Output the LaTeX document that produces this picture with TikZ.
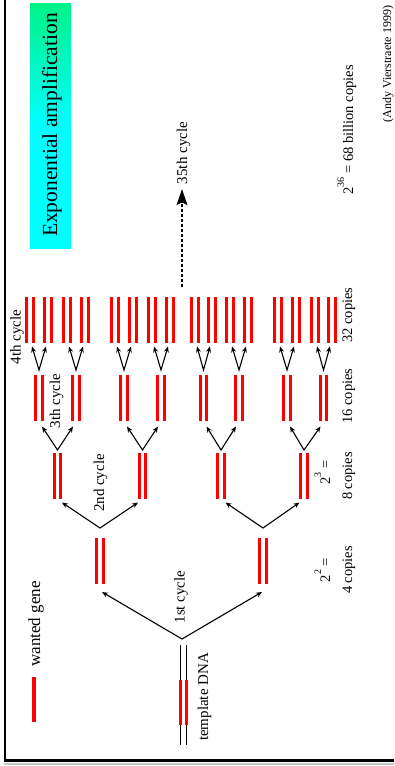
\documentclass[tikz,border=0pt]{standalone}
\usepackage{fontspec}
\setmainfont{Liberation Serif}
\usetikzlibrary{arrows.meta,calc}

\definecolor{genered}{RGB}{255,0,0}
\definecolor{titlegreen}{RGB}{0,242,135}
\definecolor{titlecyan}{RGB}{0,255,255}

\newcommand{\setsz}[1]{\fontsize{#1}{#1}\selectfont}
\newcommand{\powtwo}[1]{2\raisebox{0.62em}{\setsz{10}#1}}

\begin{document}
\begin{tikzpicture}[x=1pt,y=-1pt,
  % a double-stranded copy: two red strands side by side
  dsdna/.style={minimum width=10pt,minimum height=46pt,inner sep=0pt,outer sep=0pt,
    path picture={
      \foreach \dx in {-3.3,3.3}
        \draw[genered,line width=3.3pt]
          ([xshift=\dx pt]path picture bounding box.north) --
          ([xshift=\dx pt]path picture bounding box.south);
    }},
  % the template: long black strands carrying the gene in red
  tmpl/.style={minimum width=10pt,minimum height=100pt,inner sep=0pt,outer sep=0pt,
    path picture={
      \foreach \dx in {-3,3} {
        \draw[black,line width=1.3pt]
          ([xshift=\dx pt]path picture bounding box.north) --
          ([xshift=\dx pt]path picture bounding box.south);
        \draw[genered,line width=3.2pt]
          ($(path picture bounding box.center)+(\dx,-15)$) --
          ($(path picture bounding box.center)+(\dx,30)$);
      }
    }},
  fork/.style={line width=1.1pt,
    {Stealth[length=6pt,width=5pt]}-{Stealth[length=6pt,width=5pt]}},
  lbl/.style={rotate=90,anchor=base,inner sep=0pt,font=\setsz{15}},
  cnt/.style={lbl,font=\setsz{14.5}},
]
\useasboundingbox (0,0) rectangle (394,766);
\fill[white] (0,0) rectangle (394,766);

% frame
\draw[line width=2.5pt] (5,0) -- (5,761);
\draw[gray!45,line width=2.5pt] (4,763.8) -- (394,763.8);
\draw[line width=3pt] (3.75,760.5) -- (394,760.5);

% title
\node[minimum width=41pt,minimum height=245pt,inner sep=0pt,
      top color=titlegreen,bottom color=titlecyan,middle color=titlecyan]
  (titlebg) at (50.5,125.5) {};
\node[lbl,font=\setsz{21.5}] (title) at (57,125) {Exponential amplification};

% legend
\node[fill=genered,minimum width=3.3pt,minimum height=45pt,inner sep=0pt] (legendbar) at (34,699.5) {};
\node[lbl,font=\setsz{17}] (legendtxt) at (40,624) {wanted gene};

% template
\node[tmpl] (t0) at (183.7,695) {};
\node[lbl] (tmpltxt) at (208,697) {template DNA};

% generation 1
\node[dsdna] (d1) at (100,561) {};
\node[dsdna] (d2) at (263,561) {};
% generation 2
\foreach \n/\x in {c1/57.5,c2/142.5,c3/221,c4/304}
  \node[dsdna] (\n) at (\x,475.5) {};
% generation 3
\foreach \n/\x in {b1/39,b2/76,b3/124,b4/161,b5/203.5,b6/239,b7/287,b8/323.5}
  \node[dsdna] (\n) at (\x,397.5) {};
% generation 4
\foreach \n/\x in {a1/30,a2/48,a3/67,a4/85,a5/115,a6/133,a7/152,a8/170,
                   a9/195,a10/212,a11/230,a12/248,a13/278,a14/296,a15/315,a16/332}
  \node[dsdna] (\n) at (\x,319.5) {};

% cycle forks
\draw[fork] ([shift={(2,8)}]d1.south) -- ([shift={(-1.7,-6)}]t0.north) -- ([shift={(-1,8)}]d2.south);
\foreach \p/\l/\r in {d1/c1/c2,d2/c3/c4}
  \draw[fork] ([shift={(4.5,4)}]\l.south) -- ([shift={(0,-10)}]\p.north) -- ([shift={(-4.5,4)}]\r.south);
\foreach \p/\l/\r in {c1/b1/b2,c2/b3/b4,c3/b5/b6,c4/b7/b8}
  \draw[fork] ([shift={(3,6)}]\l.south) -- ([shift={(0,-2.5)}]\p.north) -- ([shift={(-3,6)}]\r.south);
\foreach \p/\l/\r in {b1/a1/a2,b2/a3/a4,b3/a5/a6,b4/a7/a8,b5/a9/a10,b6/a11/a12,b7/a13/a14,b8/a15/a16}
  \draw[fork] ([shift={(2,4)}]\l.south) -- ([shift={(0,-4.5)}]\p.north) -- ([shift={(-2,4)}]\r.south);

% cycle labels
\node[lbl] (cyc1) at (184.5,597) {1st cycle};
\node[lbl] (cyc2) at (104,483) {2nd cycle};
\node[lbl] (cyc3) at (60,401) {3th cycle};
\node[lbl] (cyc4) at (20.5,337) {4th cycle};
\node[lbl] (cyc35) at (187,153) {35th cycle};

% on to the 35th cycle
\coordinate (dstart) at (182,287);
\draw[line width=1.1pt,dash pattern=on 3pt off 2pt,shorten >=5pt,
      -{Stealth[length=16pt,width=11pt,inset=3pt]}]
  (dstart) -- (dstart |- cyc35.west);

% copy counts
\node[cnt] (pow2) at (330,570) {\powtwo{2} =};
\node[cnt] (cp4) at (352,570) {4 copies};
\node[cnt] (pow3) at (330,472.5) {\powtwo{3} =};
\node[cnt] (cp8) at (352,476) {8 copies};
\node[cnt] (cp16) at (352,396) {16 copies};
\node[cnt] (cp32) at (352,315) {32 copies};
\node[cnt] (cpbig) at (353,130) {\powtwo{36} = 68 billion copies};

% credit
\node[lbl,font=\setsz{12}] (credit) at (391,64) {(Andy Vierstraete 1999)};
\end{tikzpicture}
\end{document}
